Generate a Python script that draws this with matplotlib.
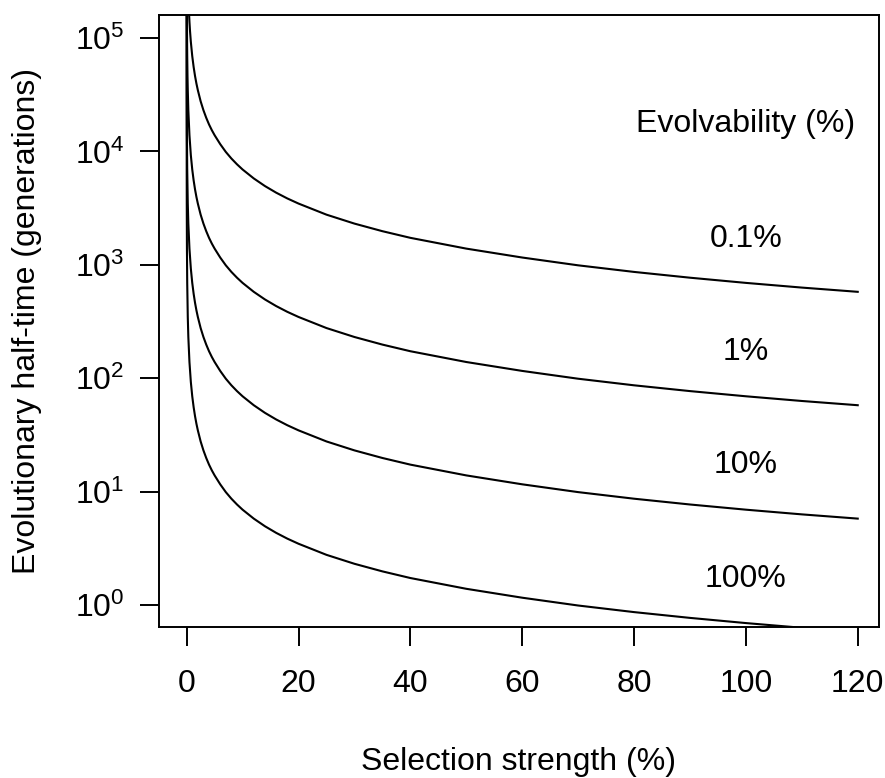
import matplotlib
matplotlib.use("Agg")
import matplotlib.pyplot as plt
from matplotlib.ticker import LogFormatterSciNotation, NullLocator

plt.rcParams['font.family'] = ['Liberation Sans', 'DejaVu Sans']
plt.rcParams['mathtext.fontset'] = 'custom'
plt.rcParams['mathtext.rm'] = 'Liberation Sans'
plt.rcParams['mathtext.it'] = 'Liberation Sans:italic'

# Selection strength (%) and half-time (generations) for each evolvability curve
x_e01 = [0.35, 0.5, 0.6, 0.75, 1, 1.25, 1.5, 1.75, 2, 2.5, 3, 3.5, 4, 4.5, 5, 6, 7, 8, 9,
         10, 12, 14, 16, 18, 20, 25, 30, 35, 40, 50, 60, 70, 80, 90, 100, 110, 120]
t_e01 = [198000, 139000, 115500, 92400, 69300, 55500, 46200, 39600, 34700, 27700, 23100,
         19800, 17300, 15400, 13900, 11600, 9900, 8660, 7700, 6930, 5780, 4950, 4330,
         3850, 3470, 2770, 2310, 1980, 1730, 1390, 1160, 990, 866, 770, 693, 630, 578]

x_e1 = [0.035, 0.05, 0.075, 0.1, 0.15, 0.2, 0.3, 0.5, 0.75, 1, 1.25, 1.5, 1.75, 2, 2.5,
        3, 3.5, 4, 4.5, 5, 6, 7, 8, 9, 10, 12, 14, 16, 18, 20, 25, 30, 35, 40, 50, 60,
        70, 80, 90, 100, 110, 120]
t_e1 = [198000, 139000, 92400, 69300, 46200, 34700, 23100, 13900, 9240, 6930, 5550,
        4620, 3960, 3470, 2770, 2310, 1980, 1730, 1540, 1390, 1160, 990, 866, 770, 693,
        578, 495, 433, 385, 347, 277, 231, 198, 173, 139, 116, 99, 86.6, 77, 69.3, 63,
        57.8]

x_e10 = [0.0035, 0.005, 0.01, 0.02, 0.05, 0.1, 0.2, 0.3, 0.5, 0.75, 1, 1.25, 1.5, 1.75,
         2, 2.5, 3, 3.5, 4, 4.5, 5, 6, 7, 8, 9, 10, 12, 14, 16, 18, 20, 25, 30, 35, 40,
         50, 60, 70, 80, 90, 100, 110, 120]
t_e10 = [198000, 139000, 69300, 34700, 13900, 6930, 3470, 2310, 1390, 924, 693, 555,
         462, 396, 347, 277, 231, 198, 173, 154, 139, 116, 99, 86.6, 77, 69.3, 57.8,
         49.5, 43.3, 38.5, 34.7, 27.7, 23.1, 19.8, 17.3, 13.9, 11.6, 9.9, 8.66, 7.7,
         6.93, 6.3, 5.78]

x_e100 = [0.00035, 0.001, 0.005, 0.01, 0.02, 0.05, 0.1, 0.2, 0.3, 0.5, 0.75, 1, 1.25,
          1.5, 1.75, 2, 2.5, 3, 3.5, 4, 4.5, 5, 6, 7, 8, 9, 10, 12, 14, 16, 18, 20, 25,
          30, 35, 40, 50, 60, 70, 80, 90, 100, 110, 120]
t_e100 = [198000, 69300, 13900, 6930, 3470, 1390, 693, 347, 231, 139, 92.4, 69.3, 55.5,
          46.2, 39.6, 34.7, 27.7, 23.1, 19.8, 17.3, 15.4, 13.9, 11.6, 9.9, 8.66, 7.7,
          6.93, 5.78, 4.95, 4.33, 3.85, 3.47, 2.77, 2.31, 1.98, 1.73, 1.39, 1.16, 0.99,
          0.866, 0.77, 0.693, 0.63, 0.578]

curve_labels = ["0.1%", "1%", "10%", "100%"]
label_y = [1700, 170, 17, 1.7]
label_x = 100
legend_title = "Evolvability (%)"
legend_title_y = 17500

x_ticks = [0, 20, 40, 60, 80, 100, 120]
y_ticks = [1, 10, 100, 1000, 10000, 100000]

FS = 23

fig = plt.figure(figsize=(8.85, 7.78), dpi=100)
ax = fig.add_axes([0.1802, 0.1941, 0.8130, 0.7866])

for xs, ts in [(x_e01, t_e01), (x_e1, t_e1), (x_e10, t_e10), (x_e100, t_e100)]:
    ax.plot(xs, ts, color='black', lw=1.5, solid_joinstyle='round')

ax.set_yscale('log')
ax.set_xlim(-4.86, 123.8)
ax.set_ylim(0.64, 159600)
ax.set_xticks(x_ticks)
ax.set_xticklabels([str(v) for v in x_ticks])
ax.set_yticks(y_ticks)
ax.yaxis.set_major_formatter(LogFormatterSciNotation())
ax.yaxis.set_minor_locator(NullLocator())

ax.tick_params(axis='both', which='major', direction='out', length=14, width=1.4,
               labelsize=FS, color='black')
ax.tick_params(axis='x', pad=16)
ax.tick_params(axis='y', pad=11)
for s in ax.spines.values():
    s.set_linewidth(1.4)

ax.text(label_x, legend_title_y, legend_title, fontsize=FS, ha='center', va='center')
for lab, yy in zip(curve_labels, label_y):
    ax.text(label_x, yy, lab, fontsize=FS, ha='center', va='center')

fig.text(0.5864, 1 - 762 / 778, "Selection strength (%)", fontsize=FS, ha='center', va='center')
fig.text(27 / 885, 1 - 321 / 778, "Evolutionary half-time (generations)", fontsize=FS,
         ha='center', va='center', rotation=90)

fig.savefig("out.png", dpi=100)
